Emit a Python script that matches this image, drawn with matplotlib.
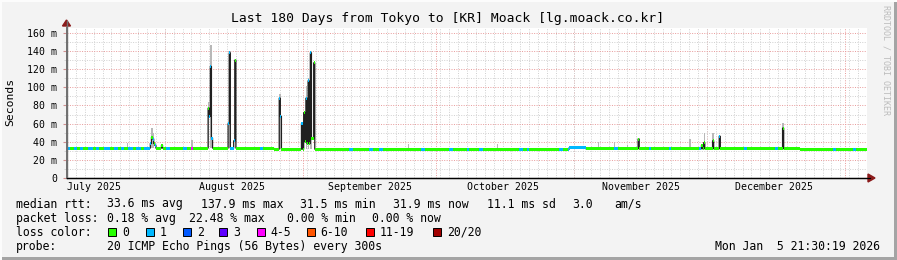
import numpy as np
import matplotlib.pyplot as plt
from matplotlib.patches import Rectangle, Polygon
from matplotlib.lines import Line2D
from matplotlib.ticker import MultipleLocator, FixedLocator, FuncFormatter
from datetime import datetime

W, H = 897, 260

start = datetime(2025, 7, 9, 21, 30, 19)
span_days = 180
bin_days = 0.25

# median baseline level (ms) by stretch of days
base_from = [0.0, 46.4, 112.9, 116.7, 165.0]
base_to = [46.4, 112.9, 116.7, 165.0, 180.0]
base_ms = [33.0, 31.8, 33.6, 32.2, 31.4]

# stretches with 1/20 lost pings (blue marks)
loss1_from = [0.0, 1.58, 2.93, 4.73, 6.53, 8.33, 10.58, 12.15, 13.73, 15.53, 17.33,
              22.28, 25.88, 36.68, 43.43, 63.53, 68.03, 70.28,
              79.75, 86.06, 89.89, 92.81, 101.82, 103.4, 110.84, 112.86, 123.06, 130.93,
              135.44, 142.2, 152.34, 159.27, 172.34, 176.84]
loss1_to = [0.68, 2.25, 3.6, 5.63, 7.2, 9.68, 11.48, 12.83, 14.85, 16.65, 18.68,
            23.18, 27.0, 37.58, 44.1, 64.2, 68.71, 70.96,
            80.42, 86.73, 90.56, 93.49, 102.5, 104.08, 111.51, 116.69, 123.9, 131.6,
            136.12, 142.87, 153.02, 159.94, 173.0, 177.5]

# latency spikes: day offset, median ms, loss class
spike_day = [18.9, 19.1, 19.35, 19.6, 19.85, 21.3, 28.2,
             31.8, 32.05, 32.3, 32.55, 36.3, 36.55, 37.6, 37.85, 47.95, 48.2,
             52.9, 53.4, 53.6, 53.85, 54.1, 54.35, 54.6, 54.85, 55.1, 55.35, 55.6,
             128.6, 142.8, 143.3, 145.3, 146.9, 161.1]
spike_ms = [38, 45, 43, 38, 36, 36, 33,
            77, 68, 123, 44, 60, 138, 41, 130, 88, 68,
            60, 72, 40, 88, 38, 107, 38, 138, 44, 44, 127,
            43, 36, 39, 41, 46, 55]
spike_loss = [1, 0, 1, 0, 1, 0, 4,
              0, 1, 1, 1, 1, 1, 1, 0, 1, 1,
              1, 0, 0, 1, 0, 1, 0, 1, 0, 0, 0,
              0, 0, 0, 0, 1, 0]

# smoke tops (slowest pings): day offset, ms
smoke_day = [13.7, 19.1, 19.35, 28.2, 31.8, 32.3, 36.55, 47.95, 53.85, 54.35, 54.85,
             76.8, 96.9, 119.6, 123.0, 126.2, 140.1, 143.3, 145.3, 161.1]
smoke_ms = [39, 55, 50, 42, 84, 147, 140, 93, 101, 110, 140,
            37, 37, 40, 40, 36, 43, 50, 50, 61]

loss_labels = ['0', '1', '2', '3', '4-5', '6-10', '11-19', '20/20']
loss_colors = ['#26ff00', '#00b8ff', '#0059ff', '#5e00ff', '#ff00ff', '#ff5500', '#ff0000', '#a10000']

month_starts = [datetime(2025, m, 1) for m in (8, 9, 10, 11, 12)] + [datetime(2026, 1, 1)]
month_mids = [datetime(2025, m, 16) for m in (7, 8, 9, 10, 11, 12)]
month_names = ['July 2025', 'August 2025', 'September 2025', 'October 2025',
               'November 2025', 'December 2025']


def days(d):
    return (d - start).total_seconds() / 86400.0


# build per-bin series
n = int(span_days / bin_days)
t = np.arange(n) * bin_days + bin_days / 2
base = np.zeros(n)
for s, e, v in zip(base_from, base_to, base_ms):
    base[(t >= s) & (t < e)] = v
med = base.copy()
loss = np.zeros(n, dtype=int)
for s, e in zip(loss1_from, loss1_to):
    loss[(t >= s) & (t < e)] = 1
for d, v, l in zip(spike_day, spike_ms, spike_loss):
    i = int(d / bin_days)
    med[i] = v
    loss[i] = l


def fx(x):
    return x / W


def fy(y):
    return 1 - y / H


mono = 'DejaVu Sans Mono'
fig = plt.figure(figsize=(W / 100, H / 100), dpi=100, facecolor='#f3f3f3')

left, right, top, bottom = 67, 867, 27.5, 178
ax = fig.add_axes([fx(left), fy(bottom), fx(right - left), (bottom - top) / H])
ax.set_facecolor('white')
ax.set_xlim(0, span_days)
ax.set_ylim(0, 166)

# smoke
for d, v in zip(smoke_day, smoke_ms):
    i = int(d / bin_days)
    ax.bar(t[i], v - base[i], bottom=base[i], width=bin_days * 1.3,
           color='#b8b8b8', linewidth=0, zorder=2)
# median line + loss coloured marks
ax.step(t, med, where='mid', color='#202020', lw=0.9, zorder=3)
for c in range(len(loss_colors)):
    sel = loss == c
    if sel.any():
        ax.bar(t[sel], 3.3, bottom=med[sel] - 1.65, width=bin_days * 1.02,
               color=loss_colors[c], linewidth=0, antialiased=False, zorder=4)

# grid
ax.yaxis.set_major_locator(MultipleLocator(20))
ax.yaxis.set_minor_locator(MultipleLocator(10))
ax.xaxis.set_major_locator(FixedLocator([days(m) for m in month_starts]))
ax.xaxis.set_minor_locator(MultipleLocator(2))
ax.set_axisbelow(True)
ax.grid(which='minor', color='#d0d0d0', ls=(0, (1, 1.5)), lw=0.7)
ax.grid(which='major', color='#e89a9a', ls=(0, (1, 1.5)), lw=0.7)
ax.yaxis.set_major_formatter(FuncFormatter(lambda v, p: '0' if v == 0 else f'{v:.0f} m'))
ax.tick_params(axis='y', which='major', length=3, color='#d09090', pad=4,
               labelsize=7.1, labelfontfamily=mono)
ax.tick_params(axis='y', which='minor', length=2, color='#d0d0d0')
ax.tick_params(axis='x', which='both', length=0, labelbottom=False)
for s in ('top', 'right'):
    ax.spines[s].set_visible(False)
ax.spines['left'].set_color('#707070')
ax.spines['left'].set_linewidth(1.4)
ax.spines['bottom'].set_color('black')
ax.spines['bottom'].set_linewidth(1.0)

for m, name in zip(month_mids, month_names):
    ax.text(days(m), -0.06, name, transform=ax.get_xaxis_transform(), ha='center',
            va='center', fontsize=7.1, family=mono)

# axis arrows
fig.add_artist(Line2D([fx(66.5), fx(66.5)], [fy(bottom), fy(21)], color='#707070', lw=1.0))
fig.add_artist(Line2D([fx(left), fx(870)], [fy(178), fy(178)], color='black', lw=0.8))
fig.add_artist(Polygon([[fx(62.5), fy(26)], [fx(70.5), fy(26)], [fx(66.5), fy(20)]],
                       closed=True, color='#8b1a1a'))
fig.add_artist(Polygon([[fx(868), fy(174)], [fx(868), fy(182)], [fx(875), fy(178)]],
                       closed=True, color='#8b1a1a'))

# frame shading
fig.add_artist(Rectangle((fx(W - 3), 0), fx(3), 1, color='#a4a4a4', lw=0))
fig.add_artist(Rectangle((0, 0), 1, 3 / H, color='#a4a4a4', lw=0))
fig.add_artist(Rectangle((0, 0), fx(2), 1, color='#fcfcfc', lw=0))
fig.add_artist(Rectangle((0, fy(2)), 1, 2 / H, color='#fcfcfc', lw=0))

fig.text(fx(448), fy(18.5), 'Last 180 Days from Tokyo to [KR] Moack [lg.moack.co.kr]',
         ha='center', va='center', fontsize=9.4, family=mono)
fig.text(fx(10), fy(102), 'Seconds', rotation=90, ha='center', va='center',
         fontsize=8.2, family=mono)
fig.text(fx(886), fy(60), 'RRDTOOL / TOBI OETIKER', rotation=270, ha='center', va='center',
         fontsize=6, family=mono, color='#bcbcbc')

fs = 8.3
rows = [
    (204, [(16, 'median rtt:'), (107, '33.6 ms avg'), (200.5, '137.9 ms max'),
           (300, '31.5 ms min'), (393, '31.9 ms now'), (486.5, '11.1 ms sd'),
           (572, '3.0'), (614, 'am/s')]),
    (218.3, [(16, 'packet loss:'), (107, '0.18 % avg'), (189, '22.48 % max'),
             (286.5, '0.00 % min'), (372.3, '0.00 % now')]),
    (232.3, [(16, 'loss color:')]),
    (246.5, [(16, 'probe:'), (107, '20 ICMP Echo Pings (56 Bytes) every 300s')]),
]
for y, parts in rows:
    for x, s in parts:
        fig.text(fx(x), fy(y), s, ha='left', va='center', fontsize=fs, family=mono)

box_x = [108, 145.7, 182.7, 219, 256.7, 306.7, 365.7, 432.7]
for x, lab, c in zip(box_x, loss_labels, loss_colors):
    fig.add_artist(Rectangle((fx(x), fy(236.3)), fx(8), 8 / H, facecolor=c,
                             edgecolor='black', lw=0.7))
    fig.text(fx(x + 14), fy(232.3), lab, ha='left', va='center', fontsize=fs, family=mono)

fig.text(fx(880), fy(246.5), 'Mon Jan  5 21:30:19 2026', ha='right', va='center',
         fontsize=fs, family=mono)

fig.savefig('out.png', dpi=100, facecolor=fig.get_facecolor())
